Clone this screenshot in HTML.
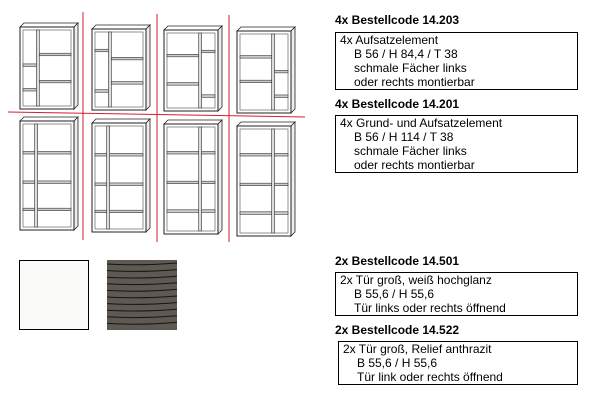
<!DOCTYPE html><html><head><meta charset="utf-8"><style>
body{margin:0;width:600px;height:400px;background:#fff;position:relative;overflow:hidden;font-family:"Liberation Sans",sans-serif;color:#000}
.t{position:absolute;left:335px;font-weight:bold;font-size:12px}
.b{position:absolute;left:335px;width:243px;border:1px solid #000;font-size:12px;line-height:14px;padding:0 0 0 4px;box-sizing:border-box}
.b div{padding-left:14px}
</style></head><body>
<svg id="s" width="600" height="400" style="position:absolute;left:0;top:0"></svg>
<div class="t" style="top:13px">4x Bestellcode 14.203</div>
<div class="b" style="top:32px;height:58px">4x Aufsatzelement<div>B 56 / H 84,4 / T 38<br>schmale Fächer links<br>oder rechts montierbar</div></div>
<div class="t" style="top:97px">4x Bestellcode 14.201</div>
<div class="b" style="top:115px;height:58px">4x Grund- und Aufsatzelement<div>B 56 / H 114 / T 38<br>schmale Fächer links<br>oder rechts montierbar</div></div>
<div class="t" style="top:254px">2x Bestellcode 14.501</div>
<div class="b" style="top:272px;height:44px">2x Tür groß, weiß hochglanz<div>B 55,6 / H 55,6<br>Tür links oder rechts öffnend</div></div>
<div class="t" style="top:323px">2x Bestellcode 14.522</div>
<div class="b" style="top:341px;height:44px;left:338px;width:240px">2x Tür groß, Relief anthrazit<div>B 55,6 / H 55,6<br>Tür link oder rechts öffnend</div></div>
<script>
var s='';
function cab(x,y,w,h,div,ls,rs){
 s+='<polygon points="'+x+','+(y+4)+' '+(x+4)+','+y+' '+(x+w+4)+','+y+' '+(x+w)+','+(y+4)+'" fill="#fff" stroke="#222" stroke-width="0.8"/>';
 s+='<polygon points="'+(x+w)+','+(y+4)+' '+(x+w+4)+','+y+' '+(x+w+4)+','+(y+h-4)+' '+(x+w)+','+(y+h)+'" fill="#eee" stroke="#222" stroke-width="0.8"/>';
 s+='<rect x="'+x+'" y="'+(y+4)+'" width="'+w+'" height="'+(h-4)+'" fill="#fff" stroke="#222" stroke-width="1"/>';
 s+='<rect x="'+(x+3)+'" y="'+(y+7)+'" width="'+(w-6)+'" height="'+(h-10)+'" fill="none" stroke="#777" stroke-width="0.8"/>';
 var dx=x+div*w;
 s+='<rect x="'+(dx-1.5)+'" y="'+(y+7)+'" width="3" height="'+(h-10)+'" fill="#ddd" stroke="#333" stroke-width="0.6"/>';
 ls.forEach(function(f){var yy=y+4+f*(h-4);s+='<rect x="'+(x+3)+'" y="'+yy+'" width="'+(dx-x-4.5)+'" height="2.5" fill="#ccc" stroke="#333" stroke-width="0.6"/>'});
 rs.forEach(function(f){var yy=y+4+f*(h-4);s+='<rect x="'+(dx+1.5)+'" y="'+yy+'" width="'+(x+w-3-dx-1.5)+'" height="2.5" fill="#ccc" stroke="#333" stroke-width="0.6"/>'});
}
cab(20,23,54,86,0.33,[0.45,0.75],[0.32,0.65]);
cab(92,25,54,85,0.33,[0.25,0.75],[0.35,0.65]);
cab(164,26,54,85,0.67,[0.3,0.65],[0.25,0.8]);
cab(237,27,54,86,0.67,[0.3,0.6],[0.48,0.78]);
cab(20,117,54,113,0.3,[0.28,0.55,0.8],[0.28,0.55,0.8]);
cab(92,119,54,113,0.3,[0.28,0.55,0.8],[0.28,0.55,0.8]);
cab(164,120,54,114,0.67,[0.25,0.52,0.78],[0.25,0.52,0.78]);
cab(237,122,54,114,0.67,[0.25,0.52,0.78],[0.25,0.52,0.78]);
s+='<g stroke="#d02030" stroke-width="1"><line x1="83" y1="12" x2="83" y2="240"/><line x1="157" y1="14" x2="157" y2="242"/><line x1="229" y1="15" x2="229" y2="242"/><line x1="8" y1="112" x2="305" y2="117"/></g>';
s+='<rect x="19.5" y="260.5" width="69" height="69" fill="#fafaf8" stroke="#000"/>';
s+='<rect x="107" y="260" width="70" height="70" fill="#5e5953"/>';
for(var i=0;i<10;i++){var yy=264+i*6.6;s+='<path d="M107 '+yy+' Q140 '+(yy+2)+' 177 '+(yy-1)+'" stroke="#151515" stroke-width="1" fill="none"/>';}
document.getElementById('s').innerHTML=s;
</script>
</body></html>
